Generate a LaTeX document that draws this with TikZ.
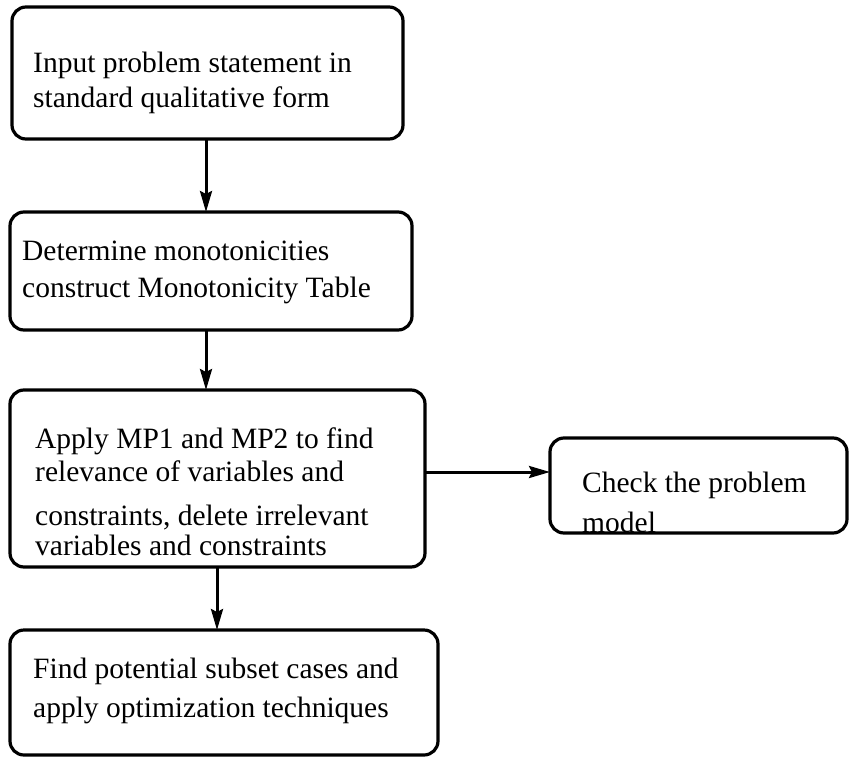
\documentclass[tikz,border=0pt]{standalone}
\usepackage{fontspec}
\setmainfont{Liberation Serif}
\usetikzlibrary{arrows.meta}
\begin{document}
\begin{tikzpicture}[x=1pt,y=-1pt,
  box/.style={draw, line width=3.2pt, rounded corners=14pt, inner sep=0pt, outer sep=0pt},
  txt/.style={anchor=base west, inner sep=0pt, font=\fontsize{29.5}{30}\selectfont},
  arr/.style={line width=3pt, -{Stealth[length=21pt,width=12pt,inset=3pt]}}]
\useasboundingbox (0,0) rectangle (849,758);
% boxes
\node[box, minimum width=391pt, minimum height=132pt] (b1) at (207.5,73) {};
\node[box, minimum width=402pt, minimum height=118pt] (b2) at (211,271) {};
\node[box, minimum width=415pt, minimum height=177pt] (b3) at (217.5,478.5) {};
\node[box, minimum width=428pt, minimum height=125pt] (b4) at (224,692.5) {};
\node[box, minimum width=297pt, minimum height=95pt] (b5) at (698.5,485.5) {};
% texts
\node[txt] (t1a) at (33,72) {Input problem statement in};
\node[txt] (t1b) at (33,107) {standard qualitative form};
\node[txt] (t2a) at (22,260) {Determine monotonicities};
\node[txt] (t2b) at (22,297) {construct Monotonicity Table};
\node[txt] (t3a) at (35,448) {Apply MP1 and MP2 to find};
\node[txt] (t3b) at (35,481) {relevance of variables and};
\node[txt] (t3c) at (35,525) {constraints, delete irrelevant};
\node[txt] (t3d) at (35,555) {variables and constraints};
\node[txt] (t4a) at (33,678) {Find potential subset cases and};
\node[txt] (t4b) at (33,717) {apply optimization techniques};
\node[txt] (t5a) at (582,492) {Check the problem};
\node[txt] (t5b) at (582,532) {model};
% connectors
\draw[arr] (206,0 |- b1.south) -- (206,0 |- b2.north);
\draw[arr] (206,0 |- b2.south) -- (206,0 |- b3.north);
\draw[arr] (217,0 |- b3.south) -- (217,0 |- b4.north);
\draw[arr] (b3.east |- 0,472) -- (b5.west |- 0,472);
\end{tikzpicture}
\end{document}
